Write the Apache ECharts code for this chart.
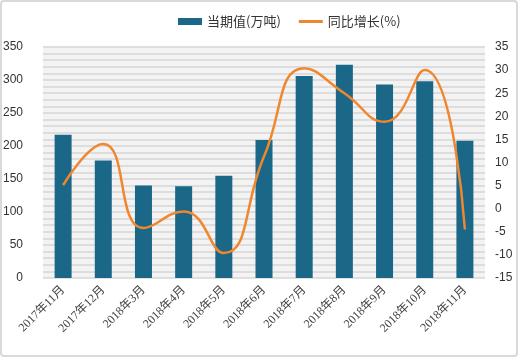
<!DOCTYPE html>
<html><head><meta charset="utf-8">
<script src="https://cdn.jsdelivr.net/npm/echarts@6/dist/echarts.min.js"></script>
<style>html,body{margin:0;padding:0;background:#fff}#c{width:520px;height:360px}</style>
</head><body><div id="c"></div>
<script>
const categories = ['2017年11月','2017年12月','2018年3月','2018年4月','2018年5月','2018年6月','2018年7月','2018年8月','2018年9月','2018年10月','2018年11月'];
const volume = [217, 178, 140, 139, 155, 209, 306, 323, 293, 298, 208];
const growth = [5.1, 14.0, -4.2, -0.6, -9.6, 11.3, 30.4, 25.0, 18.8, 30.0, -4.5];
const seriesNames = ['当期值(万吨)', '同比增长(%)'];

const chart = echarts.init(document.getElementById('c'));
chart.setOption({
  animation: false,
  backgroundColor: '#fff',
  graphic: [{type:'rect', shape:{x:1,y:1,width:516,height:355,r:3}, style:{fill:'none', stroke:'#d9d9d9', lineWidth:2}, silent:true, z:-1}],
  legend: {
    top: 10, left: 173, itemGap: 18, itemWidth: 24, itemHeight: 7,
    textStyle: {fontSize: 13, color: '#333', fontFamily: 'Noto Sans CJK SC'},
    data: [{name: seriesNames[0], icon: 'rect'},
           {name: seriesNames[1], icon: 'path://M0,0 L24,0 L24,3 L0,3 Z', itemStyle: {color: '#f0862e'}}]
  },
  grid: {left: 39, right: 35, top: 47, bottom: 82, show: false},
  xAxis: {
    type: 'category', data: categories,
    axisLine: {show: false}, axisTick: {show: false},
    axisLabel: {rotate: 45, fontSize: 12, color: '#444', fontFamily: 'Liberation Serif, Noto Sans CJK SC', interval: 0, margin: 10}
  },
  yAxis: [{
    type: 'value', min: 0, max: 350, interval: 50,
    axisLine: {show: false}, axisTick: {show: false},
    axisLabel: {fontSize: 12, color: '#333', fontFamily: 'Liberation Sans', margin: 20},
    splitLine: {show: false}
  }, {
    type: 'value', min: -15, max: 35, interval: 5,
    axisLine: {show: false}, axisTick: {show: false},
    axisLabel: {fontSize: 12, color: '#333', fontFamily: 'Liberation Sans', margin: 10},
    splitLine: {show: false}
  }, {
    type: 'value', min: 0, max: 350, interval: 10, position: 'left',
    axisLine: {show: false}, axisTick: {show: false}, axisLabel: {show: false},
    splitArea: {show: true, areaStyle: {color: ['#f3f3f3', '#f3f3f3']}},
    splitLine: {show: true, lineStyle: {color: '#d6d6d6', width: 1.5}}
  }],
  series: [{
    name: seriesNames[0], type: 'bar', data: volume, barWidth: 17,
    itemStyle: {color: '#1b6788'}
  }, {
    name: seriesNames[1], type: 'line', yAxisIndex: 1, data: growth, smooth: true,
    showSymbol: false, symbol: 'none',
    lineStyle: {color: '#f0862e', width: 2.5}, itemStyle: {color: '#f0862e'}
  }]
});
</script></body></html>
